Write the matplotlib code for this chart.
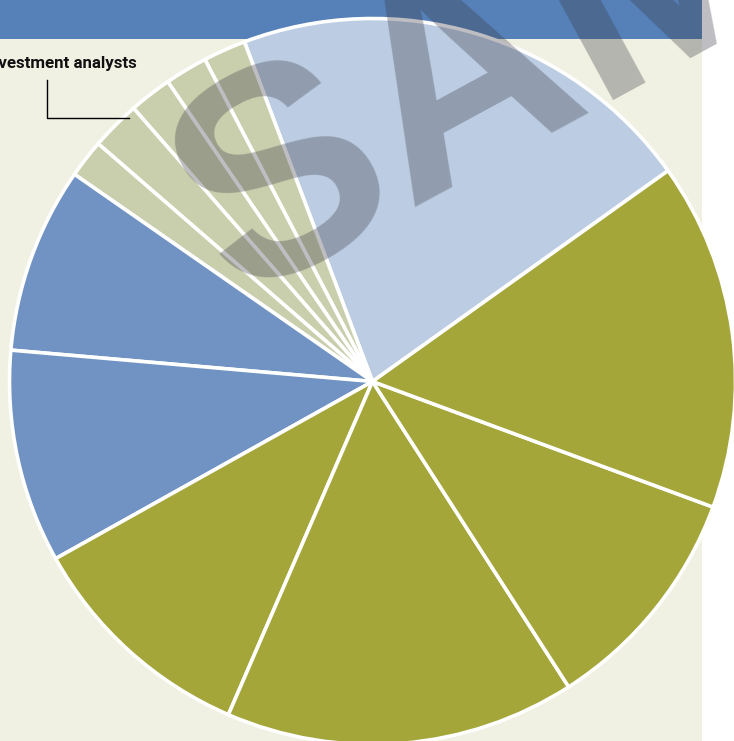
import matplotlib.pyplot as plt
import matplotlib.patches as mpatches

# slice shares (percent), counter-clockwise from the light blue one
shares = [20.9, 1.9, 1.9, 1.9, 2.2, 1.7, 8.3, 9.5, 10.4, 15.6, 10.3, 15.5]
groups = ["light", "green", "green", "green", "green", "green",
          "blue", "blue", "olive", "olive", "olive", "olive"]
labels = ["", "", "", "", "Investment analysts", "", "", "", "", "", "", ""]

palette = {"light": "#bccde3", "green": "#c9cfad", "blue": "#7093c3", "olive": "#a4a63a"}
colores = [palette[g] for g in groups]

W, H = 734, 741
fig = plt.figure(figsize=(W / 100, H / 100), dpi=100)
ax = fig.add_axes([0, 0, 1, 1])

# fondo beige y barra azul
ax.add_patch(mpatches.Rectangle((0, 0), 702, H - 38.5, facecolor="#f0f1e2", edgecolor="none", zorder=0))
ax.add_patch(mpatches.Rectangle((0, H - 38.5), 702, 38.5, facecolor="#5580b8", edgecolor="none", zorder=0))

wedges, _ = ax.pie(shares, colors=colores, startangle=35.5, counterclock=True,
                   center=(372.5, H - 381.5), radius=363, frame=True,
                   wedgeprops=dict(edgecolor="white", linewidth=2.6))
for w in wedges:
    w.set_zorder(2)
ax.set_xlim(0, W)
ax.set_ylim(0, H)
ax.set_aspect("equal")
ax.axis("off")

# etiqueta con linea guia
i = labels.index("Investment analysts")
ax.text(137, H - 68, labels[i], ha="right", va="baseline", fontsize=12.2,
        fontweight="bold", family="Roboto", color="#111111", zorder=3)
ax.plot([46.5, 46.5, 129], [H - 80, H - 118, H - 118], color="black", lw=1, zorder=3)

# marca de agua
fig.text(236 / W, 1 - 300 / H, "SAMPLE", rotation=28.5, rotation_mode="anchor",
         ha="left", va="baseline", fontsize=212, fontweight="bold", color="#3a3a44",
         alpha=0.33, family="Liberation Sans", zorder=10, clip_on=True)

plt.savefig("out.png", dpi=100)
